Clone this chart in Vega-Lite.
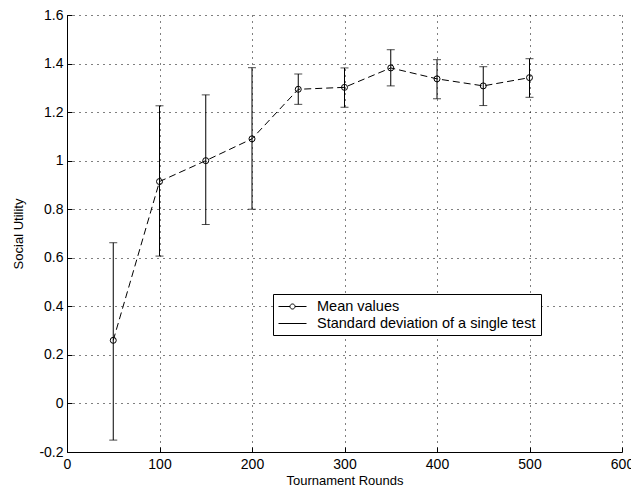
{
  "$schema": "https://vega.github.io/schema/vega-lite/v6.json",
  "autosize": {"type": "none"},
  "padding": {"left": 67, "top": 15, "right": 9, "bottom": 39},
  "width": 555,
  "height": 437,
  "background": "white",
  "config": {
    "view": {"stroke": null},
    "font": "Liberation Sans",
    "axis": {
      "domainColor": "black",
      "domainWidth": 1,
      "tickColor": "black",
      "tickSize": -5,
      "labelColor": "black",
      "titleColor": "black",
      "labelFont": "Liberation Sans",
      "titleFont": "Liberation Sans",
      "labelFontSize": 14,
      "titleFontSize": 13,
      "titleFontWeight": "normal",
      "gridColor": "black",
      "gridDash": [1, 5],
      "gridOpacity": 1,
      "gridWidth": 1
    }
  },
  "data": {
    "values": [
      {"rounds": 50, "mean": 0.26, "lo": -0.151, "hi": 0.662},
      {"rounds": 100, "mean": 0.914, "lo": 0.607, "hi": 1.226},
      {"rounds": 150, "mean": 1.0, "lo": 0.737, "hi": 1.271},
      {"rounds": 200, "mean": 1.09, "lo": 0.8, "hi": 1.383},
      {"rounds": 250, "mean": 1.294, "lo": 1.232, "hi": 1.357},
      {"rounds": 300, "mean": 1.302, "lo": 1.22, "hi": 1.382},
      {"rounds": 350, "mean": 1.382, "lo": 1.308, "hi": 1.457},
      {"rounds": 400, "mean": 1.337, "lo": 1.255, "hi": 1.416},
      {"rounds": 450, "mean": 1.308, "lo": 1.227, "hi": 1.387},
      {"rounds": 500, "mean": 1.342, "lo": 1.261, "hi": 1.42}
    ]
  },
  "encoding": {
    "x": {
      "field": "rounds",
      "type": "quantitative",
      "scale": {"domain": [0, 600], "nice": false},
      "axis": {"values": [0, 100, 200, 300, 400, 500, 600], "title": "Tournament Rounds", "labelPadding": 10, "titlePadding": 3, "labelFlush": false}
    }
  },
  "layer": [
    {
      "mark": {"type": "rule", "strokeWidth": 1},
      "encoding": {
        "y": {
          "field": "lo",
          "type": "quantitative",
          "scale": {"domain": [-0.2, 1.6], "nice": false},
          "axis": {
            "values": [-0.2, 0, 0.2, 0.4, 0.6, 0.8, 1, 1.2, 1.4, 1.6],
            "labelExpr": "replace(format(datum.value, '~g'), '\u2212', '-')",
            "title": "Social Utility",
            "labelPadding": 9,
            "titlePadding": 13,
            "labelFlush": false
          }
        },
        "y2": {"field": "hi"},
        "color": {
          "datum": "Standard deviation of a single test",
          "type": "nominal",
          "scale": {"domain": ["Mean values", "Standard deviation of a single test"], "range": ["black", "black"]},
          "legend": {
            "title": null,
            "orient": "none",
            "legendX": 206,
            "legendY": 279,
            "padding": 5,
            "strokeColor": "black",
            "fillColor": "white",
            "labelFont": "Liberation Sans",
            "labelFontSize": 14.5,
            "labelColor": "black",
            "labelLimit": 0,
            "labelOffset": 24,
            "symbolSize": 196,
            "symbolStrokeWidth": 1,
            "symbolStrokeColor": "black",
            "symbolFillColor": "transparent",
            "rowPadding": 2,
            "encode": {
              "symbols": {
                "update": {
                  "shape": {"signal": "datum.value === 'Mean values' ? 'M-1,0H0.64M1.36,0H3M1.36,0A0.36,0.36 0 1,1 0.64,0A0.36,0.36 0 1,1 1.36,0' : 'M-1,0H3'"},
                  "stroke": {"value": "black"},
                  "fill": {"value": "transparent"}
                }
              }
            }
          }
        }
      }
    },
    {
      "mark": {"type": "tick", "orient": "horizontal", "size": 8, "thickness": 1, "color": "black"},
      "encoding": {"y": {"field": "lo", "type": "quantitative"}}
    },
    {
      "mark": {"type": "tick", "orient": "horizontal", "size": 8, "thickness": 1, "color": "black"},
      "encoding": {"y": {"field": "hi", "type": "quantitative"}}
    },
    {
      "mark": {"type": "line", "strokeWidth": 1, "strokeDash": [7, 4], "point": {"filled": false, "shape": "circle", "size": 36, "strokeWidth": 1, "color": "black"}},
      "encoding": {
        "y": {"field": "mean", "type": "quantitative"},
        "color": {"datum": "Mean values", "type": "nominal"}
      }
    }
  ]
}
